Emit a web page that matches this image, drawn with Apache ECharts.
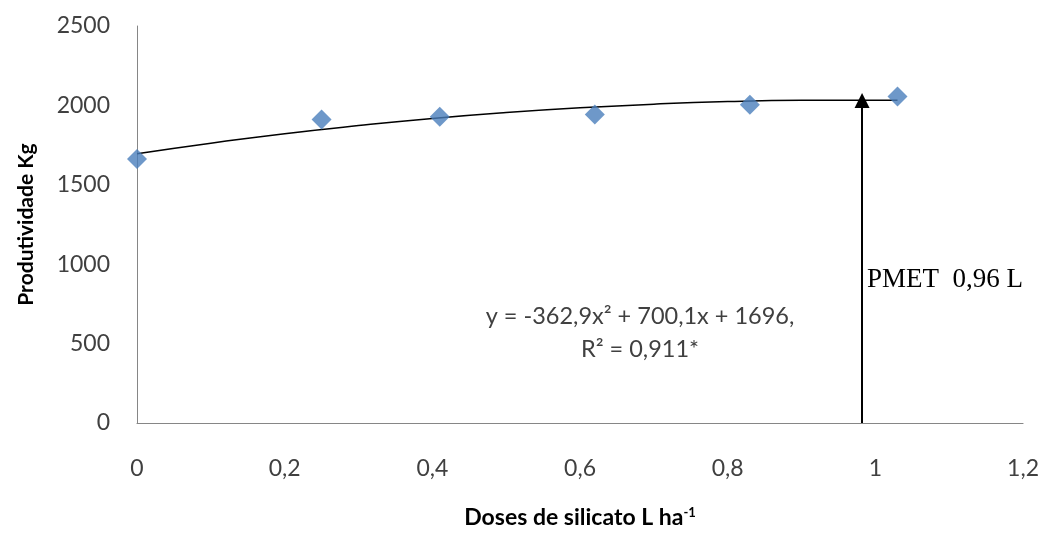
<!DOCTYPE html>
<html>
<head>
<meta charset="utf-8">
<script src="https://cdn.jsdelivr.net/npm/echarts@6/dist/echarts.min.js"></script>
<style>
  html, body { margin: 0; padding: 0; background: #fff; }
  #chart { width: 1042px; height: 534px; }
</style>
</head>
<body>
<div id="chart"></div>
<script>
// doses e produtividade observadas
const doses = [0, 0.25, 0.41, 0.62, 0.83, 1.03]
const produtividade = [1663, 1911, 1928, 1942, 2004, 2056]

// curva de tendência
const trendDoses = [0, 0.1, 0.2, 0.3, 0.4, 0.5, 0.6, 0.7, 0.8, 0.9, 1.0, 1.03]
const trendValues = [1696, 1762, 1822, 1873, 1918, 1955, 1985, 2008, 2024, 2032, 2033, 2032]

// PMET (seta)
const pmetDose = 0.982
const pmetValue = 2031

const xTicks = [0, 0.2, 0.4, 0.6, 0.8, 1, 1.2]
const yTicks = [0, 500, 1000, 1500, 2000, 2500]

const font = 'Lato'
const textColor = '#404040'
const axisColor = '#868686'

const chart = echarts.init(document.getElementById('chart'))

const option = {
  animation: false,
  grid: { left: 137, right: 18, top: 26, bottom: 104 },
  xAxis: {
    type: 'value',
    min: xTicks[0],
    max: xTicks[xTicks.length - 1],
    interval: 0.2,
    splitLine: { show: false },
    axisTick: { show: false },
    axisLine: { lineStyle: { color: axisColor, width: 1 } },
    axisLabel: {
      margin: 34,
      color: textColor,
      fontFamily: font,
      fontSize: 23,
      formatter: v => String(+v.toFixed(1)).replace('.', ',')
    },
    name: 'Doses de silicato L ha{sup|-1}',
    nameLocation: 'middle',
    nameGap: 83,
    nameTextStyle: {
      color: '#000',
      fontFamily: font,
      fontSize: 23,
      fontWeight: 'bold',
      rich: {
        sup: { fontSize: 13, fontWeight: 'bold', fontFamily: font, color: '#000', verticalAlign: 'top', padding: [0, 0, 10, 0] }
      }
    }
  },
  yAxis: {
    type: 'value',
    min: yTicks[0],
    max: yTicks[yTicks.length - 1],
    interval: 500,
    splitLine: { show: false },
    axisTick: { show: false },
    axisLine: { show: true, lineStyle: { color: axisColor, width: 1 } },
    axisLabel: {
      margin: 27,
      color: textColor,
      fontFamily: font,
      fontSize: 23,
      formatter: v => String(v)
    },
    name: 'Produtividade Kg',
    nameLocation: 'middle',
    nameGap: 100,
    nameRotate: 90,
    nameTextStyle: {
      color: '#000',
      fontFamily: font,
      fontSize: 21,
      fontWeight: 'bold'
    }
  },
  series: [
    {
      name: 'Tendência',
      type: 'line',
      smooth: true,
      showSymbol: false,
      silent: true,
      lineStyle: { color: '#000', width: 1.5 },
      data: trendDoses.map((x, i) => [x, trendValues[i]]),
      markLine: {
        silent: true,
        symbol: ['none', 'triangle'],
        symbolSize: [15, 15],
        symbolOffset: [-7, 0],
        lineStyle: { color: '#000', width: 2, type: 'solid' },
        label: { show: false },
        data: [[{ coord: [pmetDose, 0] }, { coord: [pmetDose, pmetValue] }]]
      }
    },
    {
      name: 'Produtividade',
      type: 'scatter',
      symbol: 'diamond',
      symbolSize: 20,
      itemStyle: { color: '#4a7ebb' },
      data: doses.map((x, i) => [x, produtividade[i]]),
      z: 3
    }
  ],
  graphic: [
    {
      type: 'text',
      x: 867,
      y: 266,
      style: {
        text: 'PMET  0,96 L',
        fontFamily: 'Liberation Serif',
        fontSize: 27,
        fill: '#000'
      }
    },
    {
      type: 'text',
      x: 640,
      y: 300,
      style: {
        text: 'y = -362,9x² + 700,1x + 1696,\nR² = 0,911*',
        fontFamily: font,
        fontSize: 23.5,
        lineHeight: 33,
        align: 'center',
        fill: textColor
      }
    }
  ]
}

chart.setOption(option)
</script>
</body>
</html>
